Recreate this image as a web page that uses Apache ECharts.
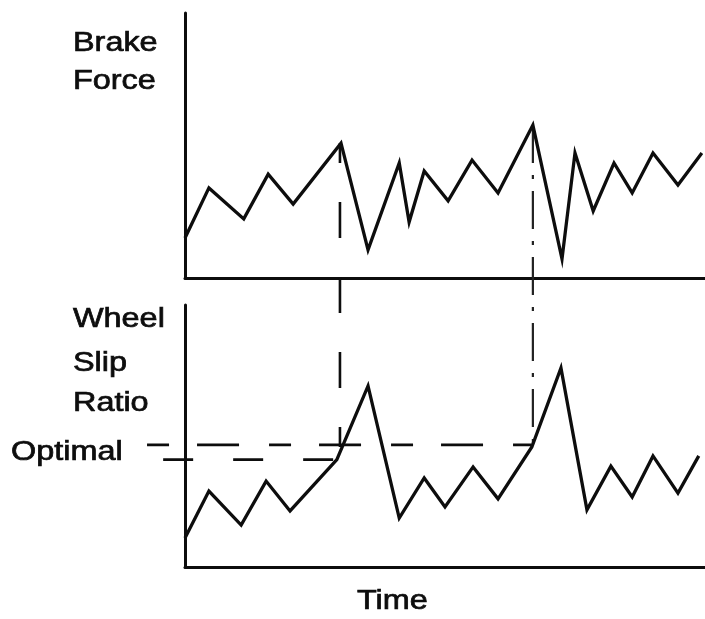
<!DOCTYPE html>
<html>
<head>
<meta charset="utf-8">
<script src="https://cdn.jsdelivr.net/npm/echarts@6/dist/echarts.min.js"></script>
<style>html,body{margin:0;padding:0;background:#fff}#c{width:705px;height:619px}</style>
</head>
<body>
<div id="c"></div>
<script>
// Time positions (0-100) and values (0-100)
const forceTime = [0, 4.6, 11.3, 16.0, 20.8, 30.0, 35.2, 41.2, 43.1, 46.0, 50.6, 55.2, 60.2, 66.9, 72.5, 75.0, 78.5, 82.5, 86.0, 90.0, 94.8, 99.4];
const forceValue = [15.1, 34.0, 22.3, 39.2, 27.9, 50.9, 10.6, 43.4, 21.1, 40.4, 29.1, 44.5, 32.1, 57.7, 7.2, 47.2, 25.3, 43.4, 32.1, 47.2, 35.1, 47.2];
const slipTime = [0, 4.6, 10.8, 15.6, 20.2, 29.2, 35.2, 41.2, 46.0, 50.0, 55.4, 60.2, 66.7, 72.3, 77.3, 81.9, 86.0, 90.0, 94.8, 98.8];
const slipValue = [11.1, 29.0, 16.0, 32.8, 21.4, 41.0, 69.1, 18.7, 34.0, 22.9, 38.2, 26.0, 45.8, 76.0, 21.8, 38.5, 26.7, 42.4, 28.2, 42.4];
// reference guides
const optimalUpper = {value: 46.6, from: -7.3, to: 66.7};
const optimalLower = {value: 41.0, from: -4.2, to: 29.2};
const peakGuides = [{time: 29.8, from: 50.9, to: -63.8}, {time: 66.9, from: 57.7, to: -63.0}];
const labelsForce = ['Brake', 'Force'];
const labelsSlip = ['Wheel', 'Slip', 'Ratio'];
const labelOptimal = 'Optimal';
const labelTime = 'Time';

const zip = (a, b) => a.map((v, i) => [v, b[i]]);
const ink = '#0d0d0d';
const FONT = '27px "Liberation Sans", Arial, sans-serif';

const chart = echarts.init(document.getElementById('c'), null, {renderer: 'canvas'});

function axisX(i, show, min) {
  return {type: 'value', gridIndex: i, min: min, max: 100, show: show,
    axisLine: {show: true, onZero: false, lineStyle: {color: ink, width: 3}},
    axisTick: {show: false}, axisLabel: {show: false}, splitLine: {show: false}};
}
function axisY(i, show) {
  return {type: 'value', gridIndex: i, min: 0, max: 100, show: show,
    axisLine: {show: true, lineStyle: {color: ink, width: 3}},
    axisTick: {show: false}, axisLabel: {show: false}, splitLine: {show: false}};
}
function lineSeries(i, data, style) {
  return {type: 'line', xAxisIndex: i, yAxisIndex: i, data, symbol: 'none', clip: false,
    silent: true, animation: false, lineStyle: style, z: style.z || 2};
}
function txt(text, x, y) {
  return {type: 'text', x, y, scaleX: 1.2, style: {text, x: 0, y: 0, font: FONT, fill: ink,
    stroke: ink, lineWidth: 0.7, textAlign: 'left', textVerticalAlign: 'middle'}};
}

const graphics = [];
labelsForce.forEach((t, k) => graphics.push(txt(t, 73, 44 + 38 * k)));
const slipYs = [320, 364, 404];
labelsSlip.forEach((t, k) => graphics.push(txt(t, 73, slipYs[k])));
graphics.push(txt(labelOptimal, 11, 453));
graphics.push(txt(labelTime, 357, 602));

// full-width helper grid sharing the lower panel's time scale (x=0 at 185px, 5.2px per unit)
const helperMin = -185 / 5.2;

chart.setOption({
  backgroundColor: '#fff',
  animation: false,
  grid: [
    {left: 185, right: 0, top: 13, height: 265},
    {left: 185, right: 0, top: 305, height: 262},
    {left: 0, right: 0, top: 305, height: 262}
  ],
  xAxis: [axisX(0, true, 0), axisX(1, true, 0), axisX(2, false, helperMin)],
  yAxis: [axisY(0, true), axisY(1, true), axisY(2, false)],
  graphic: graphics,
  series: [
    lineSeries(0, zip(forceTime, forceValue), {color: ink, width: 3.3, join: 'miter', z: 3}),
    lineSeries(1, zip(slipTime, slipValue), {color: ink, width: 3.3, join: 'miter', z: 3}),
    lineSeries(0, [[peakGuides[0].time, peakGuides[0].from], [peakGuides[0].time, peakGuides[0].to]],
      {color: ink, width: 2.6, type: [36, 39], dashOffset: 16}),
    lineSeries(0, [[peakGuides[1].time, peakGuides[1].from], [peakGuides[1].time, peakGuides[1].to]],
      {color: '#222', width: 2.2, type: [38, 12, 4, 12]}),
    lineSeries(2, [[optimalUpper.from, optimalUpper.value], [optimalUpper.to, optimalUpper.value]],
      {color: ink, width: 2.6, type: [22, 28, 42, 30], dashOffset: 0}),
    lineSeries(2, [[optimalLower.from, optimalLower.value], [optimalLower.to, optimalLower.value]],
      {color: ink, width: 2.6, type: [30, 40]})
  ]
});
</script>
</body>
</html>
